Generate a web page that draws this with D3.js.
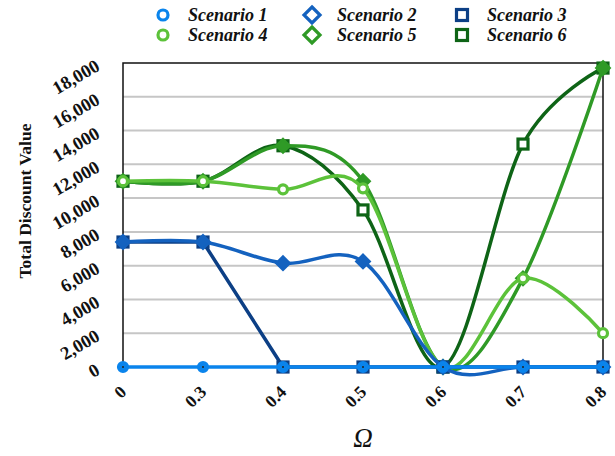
<!DOCTYPE html>
<html><head><meta charset="utf-8">
<script src="https://cdn.jsdelivr.net/npm/d3@7"></script>
<style>body{margin:0;background:#fff}</style>
</head><body>
<svg id="chart" width="615" height="456"></svg>
<script>
const categories = ["0","0.3","0.4","0.5","0.6","0.7","0.8"];
const yTicks = [0,2000,4000,6000,8000,10000,12000,14000,16000,18000];
const seriesNames = ["Scenario 1","Scenario 2","Scenario 3","Scenario 4","Scenario 5","Scenario 6"];
const scenario1 = [0,0,0,0,0,0,0];
const scenario2 = [7400,7400,6150,6250,0,0,0];
const scenario3 = [7400,7400,0,0,0,0,0];
const scenario4 = [11000,11000,10520,10580,0,5250,2000];
const scenario5 = [11000,11000,13100,11000,0,5250,17700];
const scenario6 = [11000,11000,13100,9300,0,13200,17700];
const colors = ["#0a84ec","#1462bf","#0c3f85","#5cc23a","#2f9a26","#0e6416"];
const shapes = ["circle","diamond","square","circle","diamond","square"];
const smooth = [false,true,false,true,true,true];
const values = [scenario1,scenario2,scenario3,scenario4,scenario5,scenario6];

const svg = d3.select("#chart");
const x = d3.scalePoint().domain(categories).range([123,603]);
const y = d3.scaleLinear().domain([0,18000]).range([367,63]);
const serif = "'Liberation Serif','Times New Roman',serif";

// gridlines
svg.append("g").selectAll("line").data(yTicks.filter(d=>d>0 && d<18000)).join("line")
  .attr("x1",123).attr("x2",603).attr("y1",d=>y(d)).attr("y2",d=>y(d))
  .attr("stroke","#c6c6c6").attr("stroke-width",2);

// frame
svg.append("path").attr("d",`M${x("0")},${y(0)}V${y(18000)}H${x("0.8")}V${y(0)}`)
  .attr("fill","none").attr("stroke","#111").attr("stroke-width",1.5);

// y axis labels
const yAxis = svg.append("g").attr("transform","translate(123,0)")
  .call(d3.axisLeft(y).tickValues(yTicks).tickSize(0).tickFormat(d3.format(",")));
yAxis.select(".domain").remove();
yAxis.selectAll("text").attr("x",null).attr("dy",null)
  .attr("transform",d=>`translate(-22,6) rotate(-30)`)
  .attr("text-anchor","end")
  .style("font-family",serif).style("font-weight","bold").style("font-size","18.5px").attr("fill","#111");

// x axis labels
const xAxis = svg.append("g").attr("transform",`translate(0,${y(0)})`)
  .call(d3.axisBottom(x).tickSize(0));
xAxis.select(".domain").remove();
xAxis.selectAll("text").attr("y",null).attr("dy",null)
  .attr("transform","translate(4,26) rotate(-45)")
  .attr("text-anchor","end")
  .style("font-family",serif).style("font-weight","bold").style("font-size","17.5px").attr("fill","#111");

// axis titles
svg.append("text").attr("transform","translate(31,201) rotate(-90)").attr("text-anchor","middle")
  .style("font-family",serif).style("font-weight","bold").style("font-size","17.5px").attr("fill","#111")
  .text("Total Discount Value");
svg.append("text").attr("x",363).attr("y",447).attr("text-anchor","middle")
  .style("font-family",serif).style("font-style","italic").style("font-size","27px").attr("fill","#111")
  .text("Ω");

function drawMarker(g, shape, color, cx, cy, legend, idx){
  if(shape==="circle"){
    const filled = !legend && idx===0;
    g.append("circle").attr("cx",cx).attr("cy",cy).attr("r",legend?5:4.5)
      .attr("fill",filled?color:"#fff").attr("stroke",color).attr("stroke-width",3.2);
    if(filled) g.append("circle").attr("cx",cx).attr("cy",cy).attr("r",1).attr("fill","#222");
  } else if(shape==="diamond"){
    const s = legend?8:7;
    g.append("path").attr("d",`M${cx},${cy-s}L${cx+s},${cy}L${cx},${cy+s}L${cx-s},${cy}Z`)
      .attr("fill",legend?"#fff":color).attr("stroke",color).attr("stroke-width",legend?3.2:2);
  } else {
    const s = legend?5.5:5;
    const filled = !legend && idx===2;
    g.append("rect").attr("x",cx-s).attr("y",cy-s).attr("width",2*s).attr("height",2*s)
      .attr("fill",filled?color:"#fff").attr("stroke",color).attr("stroke-width",3.2);
  }
}

// series, drawn last-to-first
for(let i=5;i>=0;i--){
  const g = svg.append("g");
  const line = d3.line().x((d,j)=>x(categories[j])).y(d=>y(d))
    .curve(smooth[i]?d3.curveCardinal.tension(0):d3.curveLinear);
  g.append("path").attr("d",line(values[i])).attr("fill","none")
    .attr("stroke",colors[i]).attr("stroke-width",3.5).attr("stroke-linejoin","round");
  values[i].forEach((v,j)=>drawMarker(g,shapes[i],colors[i],x(categories[j]),y(v),false,i));
}

// legend
const legX = [163,312,462];
const legY = [15,35];
seriesNames.forEach((name,i)=>{
  const col = i%3, row = Math.floor(i/3);
  const g = svg.append("g");
  drawMarker(g,shapes[i],colors[i],legX[col],legY[row],true,i);
  g.append("text").attr("x",legX[col]+25).attr("y",legY[row]+6)
    .style("font-family",serif).style("font-weight","bold").style("font-style","italic")
    .style("font-size","18px").attr("fill","#111").text(name);
});
</script>
</body></html>
